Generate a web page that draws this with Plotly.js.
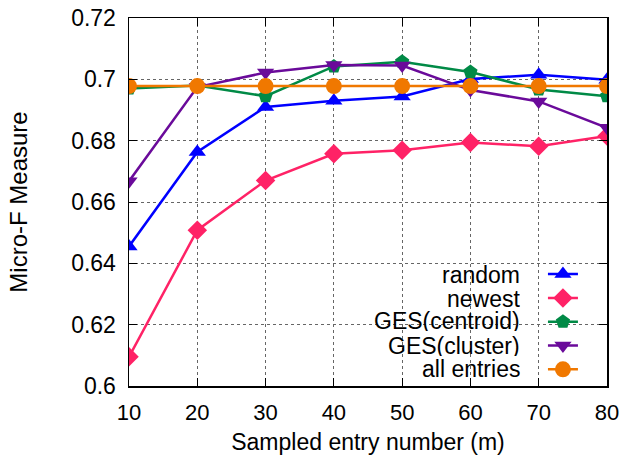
<!DOCTYPE html>
<html><head><meta charset="utf-8">
<script src="https://cdn.plot.ly/plotly-3.0.1.min.js"></script>
<style>html,body{margin:0;padding:0;background:#fff}#chart{width:642px;height:456px}</style>
</head><body><div id="chart"></div>
<script>
const xValues = [10, 20, 30, 40, 50, 60, 70, 80];
const seriesNames = ["random", "newest", "GES(centroid)", "GES(cluster)", "all entries"];
const randomVals   = [0.6455, 0.6763, 0.6910, 0.6930, 0.6944, 0.7001, 0.7015, 0.6999];
const newestVals   = [0.6095, 0.6508, 0.6670, 0.6757, 0.6769, 0.6794, 0.6782, 0.6815];
const centroidVals = [0.6970, 0.6980, 0.6945, 0.7042, 0.7057, 0.7024, 0.6967, 0.6945];
const clusterVals  = [0.6668, 0.6975, 0.7022, 0.7047, 0.7045, 0.6965, 0.6928, 0.6842];
const allVals      = [0.6978, 0.6978, 0.6978, 0.6978, 0.6978, 0.6978, 0.6978, 0.6978];
const yTicks = [0.6, 0.62, 0.64, 0.66, 0.68, 0.7, 0.72];

const seriesVals = [randomVals, newestVals, centroidVals, clusterVals, allVals];
const colors = ["#0000ff", "#ff2266", "#008a46", "#6a0a9a", "#f07800"];
const symbols = ["triangle-up", "diamond", "pentagon", "triangle-down", "circle"];
const sizes = [15, 15, 15, 15, 16];

const traces = seriesVals.map((v, i) => ({
  x: xValues, y: v, type: "scatter", mode: "lines+markers",
  name: " ",
  line: {color: colors[i], width: 2.5},
  marker: {color: colors[i], symbol: symbols[i], size: sizes[i]}
}));

const F = "Liberation Sans, Arial, sans-serif";
const rowY = [0.302, 0.238, 0.177, 0.111, 0.048];
const annotations = seriesNames.map((n, i) => ({
  text: n, xref: "paper", yref: "paper", x: 0.822, y: rowY[i],
  xanchor: "right", yanchor: "middle", showarrow: false, height: 21,
  font: {family: F, size: 23, color: "#000"}
}));

const layout = {
  width: 642, height: 456,
  margin: {l: 129, r: 35, t: 18, b: 70},
  paper_bgcolor: "#fff", plot_bgcolor: "#fff",
  font: {family: F, size: 22, color: "#000"},
  showlegend: true,
  legend: {x: 0.866, y: 0.35, xanchor: "left", yanchor: "top",
    bgcolor: "rgba(0,0,0,0)", font: {size: 16}, itemwidth: 30,
    tracegroupgap: 0},
  xaxis: {range: [10, 80], tickvals: xValues, ticks: "inside", ticklen: 8,
    tickcolor: "#000", mirror: "ticks", showline: true, linecolor: "#000", linewidth: 1.5,
    showgrid: true, gridcolor: "#666", griddash: "dot", gridwidth: 1, zeroline: false,
    tickfont: {size: 22}, ticklabelstandoff: 6,
    title: {text: "Sampled entry number (m)", font: {size: 23}, standoff: 10}},
  yaxis: {range: [0.6, 0.72], tickvals: yTicks, ticks: "inside", ticklen: 8,
    tickcolor: "#000", mirror: "ticks", showline: true, linecolor: "#000", linewidth: 1.5,
    showgrid: true, gridcolor: "#666", griddash: "dot", gridwidth: 1, zeroline: false,
    tickfont: {size: 23}, ticklabelstandoff: 7,
    title: {text: "Micro-F Measure", font: {size: 24}, standoff: 36}},
  shapes: [{type: "rect", xref: "paper", yref: "paper", x0: 0.416, x1: 0.981, y0: 0.008, y1: 0.334,
    fillcolor: "#fff", line: {width: 0}, layer: "between"}],
  annotations: annotations
};

Plotly.newPlot("chart", traces, layout, {staticPlot: true, displayModeBar: false});
</script></body></html>
